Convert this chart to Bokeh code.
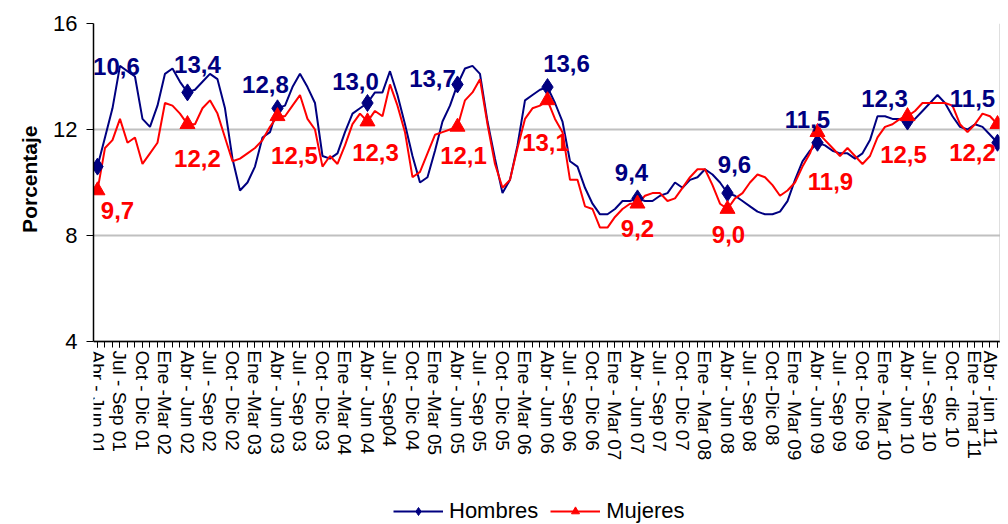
from bokeh.plotting import figure
from bokeh.models import (ColumnDataSource, FixedTicker, Legend, LegendItem, Range1d,
                          LinearAxis, Title)
from bokeh.core.properties import value
from bokeh.embed import file_html
from bokeh.resources import INLINE

# ---------------- data ----------------
categories = [
    "Abr - Jun 01", "Jul - Sep 01", "Oct - Dic 01", "Ene -Mar 02", "Abr - Jun 02",
    "Jul - Sep 02", "Oct - Dic 02", "Ene -Mar 03", "Abr - Jun 03", "Jul - Sep 03",
    "Oct - Dic 03", "Ene -Mar 04", "Abr - Jun 04", "Jul - Sep04", "Oct - Dic 04",
    "Ene -Mar 05", "Abr - Jun 05", "Jul - Sep 05", "Oct - Dic 05", "Ene -Mar 06",
    "Abr - Jun 06", "Jul - Sep 06", "Oct - Dic 06", "Ene - Mar 07", "Abr - Jun 07",
    "Jul - Sep 07", "Oct - Dic 07", "Ene - Mar 08", "Abr - Jun 08", "Jul - Sep 08",
    "Oct -Dic 08", "Ene - Mar 09", "Abr - Jun 09", "Jul - Sep 09", "Oct - Dic 09",
    "Ene - Mar 10", "Abr - Jun 10", "Jul - Sep 10", "Oct - dic 10", "Ene - mar 11",
    "Abr - jun 11",
]

hombres = [
    10.6, 11.7, 12.8, 14.4, 14.2, 14.0, 12.4, 12.1, 12.9, 14.1, 14.3, 13.8,
    13.4, 13.5, 13.8, 14.1, 13.9, 12.8, 10.9, 9.7, 10.0, 10.6, 11.7, 11.9,
    12.8, 12.9, 13.6, 14.1, 13.6, 13.0, 11.0, 10.9, 11.1, 11.9, 12.6, 12.8,
    13.0, 13.4, 13.4, 14.2, 13.3, 12.2, 11.0, 10.0, 10.2, 11.2, 12.3, 12.9,
    13.7, 14.3, 14.4, 14.1, 12.3, 10.9, 9.6, 10.1, 11.4, 13.1, 13.3, 13.5,
    13.6, 13.0, 12.3, 10.8, 10.6, 9.8, 9.2, 8.8, 8.8, 9.0, 9.3, 9.3,
    9.4, 9.3, 9.3, 9.5, 9.6, 10.0, 9.8, 10.1, 10.2, 10.5, 10.3, 10.0,
    9.6, 9.5, 9.3, 9.1, 8.9, 8.8, 8.8, 8.9, 9.3, 10.1, 10.8, 11.2,
    11.5, 11.4, 11.2, 11.1, 11.1, 10.9, 11.1, 11.6, 12.5, 12.5, 12.4, 12.4,
    12.3, 12.4, 12.7, 13.0, 13.3, 13.0, 12.5, 12.1, 12.0, 12.2, 12.1, 11.8,
    11.5,
]

mujeres = [
    9.7, 11.3, 11.6, 12.4, 11.5, 11.7, 10.7, 11.1, 11.5, 13.0, 12.9, 12.6,
    12.2, 12.2, 12.8, 13.1, 12.6, 11.7, 10.8, 10.9, 11.1, 11.3, 11.6, 12.1,
    12.5, 12.5, 12.9, 13.3, 12.4, 12.0, 10.6, 11.0, 10.7, 11.4, 12.2, 12.6,
    12.3, 12.7, 12.5, 13.7, 12.9, 11.9, 10.2, 10.4, 11.1, 11.8, 11.9, 12.0,
    12.1, 13.1, 13.4, 13.9, 12.2, 10.7, 9.8, 10.1, 11.3, 12.4, 12.8, 12.9,
    13.1, 12.4, 11.9, 10.1, 10.1, 9.1, 9.0, 8.3, 8.3, 8.7, 9.0, 9.2,
    9.2, 9.5, 9.6, 9.6, 9.3, 9.4, 9.8, 10.2, 10.5, 10.5, 9.9, 9.2,
    9.0, 9.4, 9.6, 10.0, 10.3, 10.2, 9.9, 9.5, 9.7, 10.0, 10.6, 11.1,
    11.9, 11.6, 11.3, 11.0, 11.3, 11.0, 10.7, 11.0, 11.7, 12.1, 12.2, 12.4,
    12.5, 12.7, 13.0, 13.0, 13.0, 13.0, 12.9, 12.2, 11.9, 12.2, 12.6, 12.5,
    12.2,
]

y_ticks = [4, 8, 12, 16]
label_step = 3      # one category label every 3 months
marker_step = 12    # one marker (and data label) per year

# label placement (screen pixels relative to each marker) - styling only
h_dx = [19, 10, -12, -12, -25, 19, -6, 7, -10, -23, -25]
h_dy = [-100, -28, -24, -22, -6, -24, -26, -29, -23, -23, -44]
m_dx = [20, 10, 17, 8, 6, -2, 0, 1, 13, -4, -25]
m_dy = [20, 34, 39, 31, 29, 42, 25, 25, 49, 38, 28]

NAVY = "#000080"
RED = "#FF0000"
GRID = "#c0c0c0"
FONT = "Liberation Sans"

# ---------------- layout geometry ----------------
PLOT_H = 318            # pixel height of the value area (4 .. 16)
BELOW_H = 183           # room for the category labels and the legend
Y_MIN, Y_MAX = y_ticks[0], y_ticks[-1]
px_per_unit = PLOT_H / (Y_MAX - Y_MIN)
X_START, X_END = -0.53, 120.4

idx = list(range(len(hombres)))
p = figure(frame_width=907, frame_height=PLOT_H + BELOW_H, output_backend="svg",
           toolbar_location=None,
           x_range=Range1d(X_START, X_END),
           y_range=Range1d(Y_MIN - BELOW_H / px_per_unit, Y_MAX),
           min_border_left=93, min_border_top=23, min_border_right=0,
           min_border_bottom=0, background_fill_color="white",
           border_fill_color="white")

p.outline_line_color = None
p.xgrid.grid_line_color = None
p.ygrid.grid_line_color = GRID
p.ygrid.grid_line_width = 2
p.ygrid.ticker = FixedTicker(ticks=y_ticks)

# y axis
p.yaxis.ticker = FixedTicker(ticks=y_ticks)
p.yaxis.bounds = (Y_MIN, Y_MAX)
p.yaxis.axis_line_color = "black"
p.yaxis.axis_line_width = 1.5
p.yaxis.major_tick_line_color = "black"
p.yaxis.major_tick_out = 7
p.yaxis.major_tick_in = 0
p.yaxis.minor_tick_line_color = None
p.yaxis.major_label_text_font = FONT
p.yaxis.major_label_text_font_size = "22px"
p.yaxis.major_label_text_color = "black"
p.yaxis.major_label_standoff = 9

# y axis title, placed beside the value area (top-aligned with an offset)
ytitle = Title(text="Porcentaje", align="right", offset=102,
               standoff=20, text_font=FONT, text_font_size="21px",
               text_font_style="bold", text_color="black")
p.add_layout(ytitle, "left")

# right border of the value area (axis without ticks or labels)
rb = LinearAxis(fixed_location=X_END, bounds=(Y_MIN, Y_MAX),
                ticker=FixedTicker(ticks=[]), axis_line_color=GRID,
                axis_line_width=2, major_tick_line_color=None,
                minor_tick_line_color=None, major_label_text_font_size="0px")
p.add_layout(rb, "right")

# x axis (category labels), placed at the bottom of the value area
major = list(range(0, len(hombres), label_step))
xa = p.xaxis[0]
xa.fixed_location = Y_MIN
xa.ticker = FixedTicker(ticks=major, minor_ticks=idx)
xa.major_label_overrides = {t: categories[k] for k, t in enumerate(major)}
xa.major_label_orientation = "vertical"
xa.major_label_text_font = FONT
xa.major_label_text_font_size = "19px"
xa.major_label_text_color = "black"
xa.major_label_standoff = 3
xa.axis_line_color = "black"
xa.axis_line_width = 1.5
xa.major_tick_out = 6
xa.major_tick_in = 0
xa.minor_tick_out = 6
xa.minor_tick_in = 0
xa.major_tick_line_color = "black"
xa.minor_tick_line_color = "black"

# lines
src = ColumnDataSource(dict(x=idx, h=hombres, m=mujeres))
lh = p.line("x", "h", source=src, line_color=NAVY, line_width=2)
lm = p.line("x", "m", source=src, line_color=RED, line_width=2)

mk = list(range(0, len(hombres), marker_step))
msrc = ColumnDataSource(dict(
    x=mk,
    h=[hombres[i] for i in mk],
    m=[mujeres[i] for i in mk],
    ht=[f"{hombres[i]:.1f}".replace(".", ",") for i in mk],
    mt=[f"{mujeres[i]:.1f}".replace(".", ",") for i in mk],
    hdx=h_dx, hdy=h_dy, mdx=m_dx, mdy=m_dy,
))
dh = p.scatter("x", "h", source=msrc, marker="diamond", size=17,
               fill_color=NAVY, line_color=NAVY)
dm = p.scatter("x", "m", source=msrc, marker="triangle", size=15,
               fill_color=RED, line_color=RED)

p.text("x", "h", text="ht", source=msrc, x_offset="hdx", y_offset="hdy",
       text_color=NAVY, text_font=value(FONT), text_font_size="24px",
       text_font_style="bold", text_align="center", text_baseline="middle")
p.text("x", "m", text="mt", source=msrc, x_offset="mdx", y_offset="mdy",
       text_color=RED, text_font=value(FONT), text_font_size="24px",
       text_font_style="bold", text_align="center", text_baseline="middle")

legend = Legend(items=[LegendItem(label="Hombres", renderers=[lh, dh]),
                       LegendItem(label="Mujeres", renderers=[lm, dm])],
                orientation="horizontal", location=(300, 0),
                glyph_width=50, glyph_height=20, label_text_font=FONT,
                label_text_font_size="22px", label_text_color="black",
                border_line_color=None, background_fill_alpha=0,
                spacing=12, label_standoff=6, margin=0, padding=0)
p.add_layout(legend)

open("out.html", "w").write(file_html(p, INLINE))
